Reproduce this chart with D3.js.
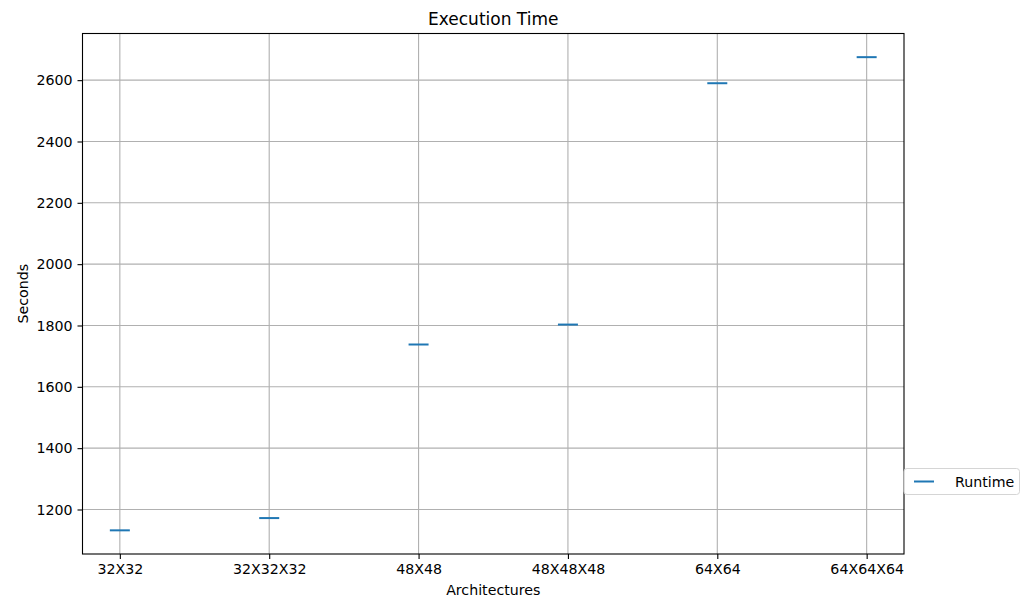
<!DOCTYPE html>
<html>
<head>
<meta charset="utf-8">
<script src="https://cdn.jsdelivr.net/npm/d3@7"></script>
<style>
  body { margin: 0; background: #fff; }
  svg { display: block; }
</style>
</head>
<body>
<div id="chart"></div>
<script>
// chart values
const architectures = ['32X32', '32X32X32', '48X48', '48X48X48', '64X64', '64X64X64'];
const runtimes = [1132, 1172, 1738, 1803, 2590, 2675];
const yTicks = [1200, 1400, 1600, 1800, 2000, 2200, 2400, 2600];

const W = 1029, H = 600;
const FONT = 'DejaVu Sans, sans-serif';
const margin = { top: 33.5, left: 82.5, right: 125, bottom: 46 };
const width = W - margin.left - margin.right,
      height = H - margin.top - margin.bottom;

const data = architectures.map((a, i) => ({ arch: a, value: runtimes[i] }));

const svg = d3.select('#chart').append('svg')
    .attr('width', W)
    .attr('height', H)
    .attr('font-family', FONT);

// matplotlib style autoscale: 5% padding around the data
const lo = d3.min(runtimes), hi = d3.max(runtimes), pad = (hi - lo) * 0.05;

const x = d3.scalePoint()
    .domain(architectures)
    .range([0, width])
    .padding(0.25);

const y = d3.scaleLinear()
    .domain([lo - pad, hi + pad])
    .range([height, 0]);

const g = svg.append('g')
    .attr('transform', 'translate(' + margin.left + ',' + margin.top + ')');

// grid
g.append('g').selectAll('line')
    .data(architectures)
    .enter().append('line')
    .attr('x1', d => x(d)).attr('x2', d => x(d))
    .attr('y1', 0).attr('y2', height)
    .attr('stroke', '#b0b0b0').attr('stroke-width', 1.1);

g.append('g').selectAll('line')
    .data(yTicks)
    .enter().append('line')
    .attr('x1', 0).attr('x2', width)
    .attr('y1', d => y(d)).attr('y2', d => y(d))
    .attr('stroke', '#b0b0b0').attr('stroke-width', 1.1);

// axes
const xAxis = g.append('g')
    .attr('transform', 'translate(0,' + height + ')')
    .call(d3.axisBottom(x).tickSize(5).tickPadding(5));

const yAxis = g.append('g')
    .call(d3.axisLeft(y).tickValues(yTicks).tickSize(5).tickPadding(5).tickFormat(d3.format('d')));

[xAxis, yAxis].forEach(a => {
    a.attr('font-family', FONT).attr('font-size', 14.2);
    a.select('.domain').remove();
    a.selectAll('.tick line').attr('stroke', '#000').attr('stroke-width', 1.1);
    a.selectAll('.tick text').attr('fill', '#000');
});

// markers ('_' style)
g.append('g').selectAll('line')
    .data(data)
    .enter().append('line')
    .attr('x1', d => x(d.arch) - 10)
    .attr('x2', d => x(d.arch) + 10)
    .attr('y1', d => y(d.value))
    .attr('y2', d => y(d.value))
    .attr('stroke', '#1f77b4')
    .attr('stroke-width', 2);

// frame
g.append('rect')
    .attr('width', width).attr('height', height)
    .attr('fill', 'none').attr('stroke', '#000').attr('stroke-width', 1.1);

// title and labels
svg.append('text')
    .attr('x', margin.left + width / 2)
    .attr('y', 25)
    .attr('text-anchor', 'middle')
    .attr('font-size', 17)
    .text('Execution Time');

svg.append('text')
    .attr('x', margin.left + width / 2)
    .attr('y', 595)
    .attr('text-anchor', 'middle')
    .attr('font-size', 14.2)
    .text('Architectures');

svg.append('text')
    .attr('transform', 'translate(28,' + (margin.top + height / 2) + ') rotate(-90)')
    .attr('text-anchor', 'middle')
    .attr('font-size', 14.2)
    .text('Seconds');

// legend, sitting just outside the right edge
const legend = svg.append('g')
    .attr('transform', 'translate(' + (margin.left + width) + ',468.5)');

legend.append('rect')
    .attr('width', 115.5).attr('height', 26)
    .attr('rx', 3)
    .attr('fill', '#fff').attr('fill-opacity', 0.8)
    .attr('stroke', '#d5d5d5').attr('stroke-width', 1);

legend.append('line')
    .attr('x1', 10).attr('x2', 30)
    .attr('y1', 13).attr('y2', 13)
    .attr('stroke', '#1f77b4').attr('stroke-width', 2);

legend.append('text')
    .attr('x', 51)
    .attr('y', 18)
    .attr('font-size', 14.2)
    .text('Runtime');
</script>
</body>
</html>
